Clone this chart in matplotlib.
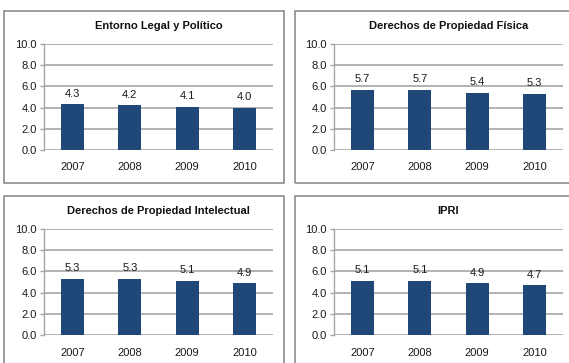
import matplotlib.pyplot as plt
from matplotlib.patches import Rectangle
from matplotlib.ticker import FuncFormatter

plt.rcParams['font.family'] = ['Liberation Sans', 'DejaVu Sans']

years = ['2007', '2008', '2009', '2010']
titles = ['Entorno Legal y Político', 'Derechos de Propiedad Física',
          'Derechos de Propiedad Intelectual', 'IPRI']
legal = [4.3, 4.2, 4.1, 4.0]
fisica = [5.7, 5.7, 5.4, 5.3]
intelectual = [5.3, 5.3, 5.1, 4.9]
ipri = [5.1, 5.1, 4.9, 4.7]
y_ticks = [0, 2, 4, 6, 8, 10]

W, H = 569, 363
BAR = '#1F4878'
GRID = '#A6A6A6'
BORDER = '#8E8E8E'

fig = plt.figure(figsize=(W / 100, H / 100), dpi=100)
fmt = FuncFormatter(lambda v, _: f"{v:.1f}")

def px_box(x0, y0, x1, y1):
    # pixel box (top-left origin) -> figure fraction rect
    return [x0 / W, (H - y1) / H, (x1 - x0) / W, (y1 - y0) / H]

# panel frames: (frame box, axes box)
panels = [
    ((4, 11, 284, 183), (44, 44, 273, 150)),
    ((295, 11, 575, 183), (334, 44, 563, 150)),
    ((4, 196, 284, 375), (44, 229, 273, 335)),
    ((295, 196, 575, 375), (334, 229, 563, 335)),
]
series = [legal, fisica, intelectual, ipri]

for (frame, axbox), title, vals in zip(panels, titles, series):
    fx = px_box(*frame)
    fig.patches.append(Rectangle((fx[0], fx[1]), fx[2], fx[3], transform=fig.transFigure,
                                 fill=False, edgecolor=BORDER, linewidth=1.2))
    ax = fig.add_axes(px_box(*axbox))
    x = range(len(years))
    ax.bar(x, vals, width=0.4, color=BAR, zorder=3)
    for xi, v in zip(x, vals):
        ax.annotate(f"{v:.1f}", (xi, v), xytext=(0, 4), textcoords='offset points',
                    ha='center', va='bottom', fontsize=8, color='#1A1A1A', zorder=4)
    ax.set_xlim(-0.5, 3.5)
    ax.set_ylim(0, 10)
    ax.set_yticks(y_ticks)
    ax.yaxis.set_major_formatter(fmt)
    ax.set_xticks(list(x))
    ax.set_xticklabels(years)
    ax.tick_params(axis='x', length=0, pad=9, labelsize=8, colors='#1A1A1A')
    ax.tick_params(axis='y', length=3, width=1, color=GRID, pad=2, labelsize=8, labelcolor='#1A1A1A')
    ax.grid(axis='y', color=GRID, linewidth=1.2, zorder=0)
    for s in ['top', 'right', 'bottom']:
        ax.spines[s].set_visible(False)
    ax.spines['left'].set_color(GRID)
    ax.spines['left'].set_linewidth(1)
    ax.set_axisbelow(True)
    ax.set_title(title, fontsize=8, fontweight='bold', pad=11, color='#111111')

fig.savefig('out.png', dpi=100)
